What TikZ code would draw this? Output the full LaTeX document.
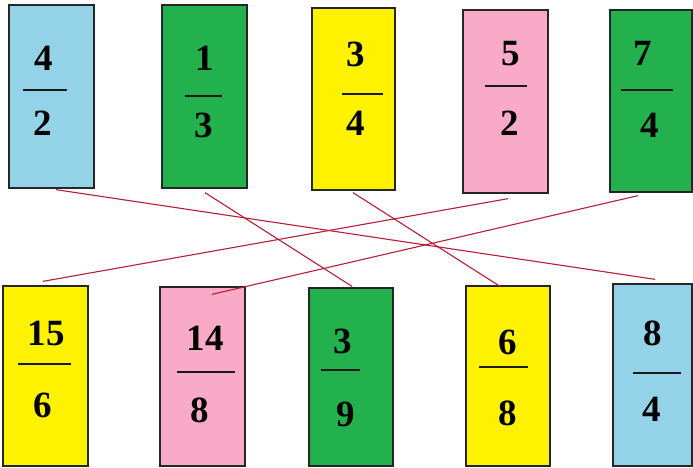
\documentclass[tikz,border=0pt]{standalone}
\usepackage{fontspec}
\setmainfont{Liberation Serif}
\usetikzlibrary{calc}
\definecolor{cblue}{RGB}{148,210,231}
\definecolor{cgreen}{RGB}{34,177,76}
\definecolor{cyellow}{RGB}{255,242,0}
\definecolor{cpink}{RGB}{249,170,199}
\definecolor{cline}{RGB}{180,30,55}
\tikzset{
  card/.style={draw=black!85, line width=1.3pt, minimum width=#1, inner sep=0pt},
  num/.style={inner sep=0pt, font=\fontsize{37}{42}\selectfont\bfseries},
  fbar/.style={line width=1.8pt, black!90},
  match/.style={cline, line width=1.1pt}
}
\begin{document}
\begin{tikzpicture}[x=1pt,y=-1pt]
\useasboundingbox (0,0) rectangle (693,468);
\fill[white] (0,0) rectangle (693,468);
% top row
\node[card=85pt, minimum height=183pt, fill=cblue]   (t1) at (51.5,96.5) {};
\node[card=85pt, minimum height=183pt, fill=cgreen]  (t2) at (204.5,96.5) {};
\node[card=83pt, minimum height=182pt, fill=cyellow] (t3) at (353.5,99) {};
\node[card=85pt, minimum height=183pt, fill=cpink]   (t4) at (505.5,101.5) {};
\node[card=82pt, minimum height=182pt, fill=cgreen]  (t5) at (651,101) {};
% bottom row
\node[card=85pt, minimum height=180pt, fill=cyellow] (b1) at (45.5,376) {};
\node[card=85pt, minimum height=179pt, fill=cpink]   (b2) at (202.5,376.5) {};
\node[card=84pt, minimum height=178pt, fill=cgreen]  (b3) at (351,377) {};
\node[card=84pt, minimum height=180pt, fill=cyellow] (b4) at (508,376) {};
\node[card=79pt, minimum height=182pt, fill=cblue]   (b5) at (652.5,375) {};
% fractions, top
\node[num] (t1n) at (44,58) {4};   \draw[fbar] (23,90) -- (67,90);   \node[num] (t1d) at (43,123) {2};
\node[num] (t2n) at (205,58) {1};  \draw[fbar] (185,96) -- (222,96); \node[num] (t2d) at (204,125) {3};
\node[num] (t3n) at (356,54) {3};  \draw[fbar] (342,94) -- (383,94); \node[num] (t3d) at (356,123) {4};
\node[num] (t4n) at (511,54) {5};  \draw[fbar] (485,86) -- (527,86); \node[num] (t4d) at (510,123) {2};
\node[num] (t5n) at (643,53) {7};  \draw[fbar] (621,90) -- (673,90); \node[num] (t5d) at (650,125) {4};
% fractions, bottom
\node[num] (b1n) at (46,333) {15}; \draw[fbar] (18,364) -- (71,364);   \node[num] (b1d) at (43,405) {6};
\node[num] (b2n) at (205,338) {14};\draw[fbar] (177,372) -- (235,372); \node[num] (b2d) at (200,410) {8};
\node[num] (b3n) at (343,341) {3}; \draw[fbar] (321,370) -- (360,370); \node[num] (b3d) at (346,414) {9};
\node[num] (b4n) at (508,342) {6}; \draw[fbar] (479,367) -- (528,367); \node[num] (b4d) at (508,413) {8};
\node[num] (b5n) at (653,333) {8}; \draw[fbar] (633,373) -- (681,373); \node[num] (b5d) at (652,409) {4};
% matching lines
\draw[match] ($(t1.south)+(4.5,1)$) -- ($(b5.north)+(2.5,-4)$);
\draw[match] ($(t2.south)+(0.5,4)$) -- ($(b3.north)+(1,-1)$);
\draw[match] ($(t3.south)+(-0.5,2)$) -- ($(b4.north)+(-8,1)$);
\draw[match] ($(t4.south)+(2.5,5)$) -- ($(b1.north)+(-2.5,-4)$);
\draw[match] ($(t5.south)+(-13,3)$) -- ($(b2.north)+(9.5,8)$);
\end{tikzpicture}
\end{document}
